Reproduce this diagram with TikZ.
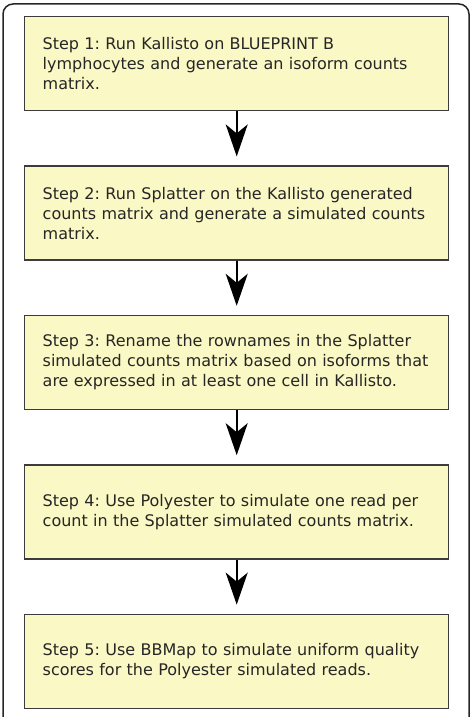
\documentclass[tikz,border=0pt]{standalone}
\usepackage{fontspec}
\setmainfont{DejaVu Sans}
\usetikzlibrary{positioning,arrows.meta}

\definecolor{boxfill}{RGB}{250,248,196}
\definecolor{boxline}{RGB}{60,60,60}

\tikzset{
  stepbox/.style={draw=boxline, line width=1.4pt, fill=boxfill,
    text width=388pt, inner xsep=18pt, inner ysep=0pt, minimum height=94pt,
    align=left, text=black!85, font=\fontsize{16}{20}\selectfont\frenchspacing},
  flow/.style={-{Stealth[length=32pt,width=22pt,inset=9pt]}, line width=1.6pt, shorten >=9pt}
}

\begin{document}
\begin{tikzpicture}[x=1pt, y=-1pt, node distance=54pt]
  \useasboundingbox (0,0) rectangle (471,717);

  % Outer frame, its bottom edge runs off the page
  \draw[line width=1.5pt, rounded corners=10pt, black!85] (3,4) rectangle (469,740);

  % Steps
  \node[stepbox, anchor=north west] (s1) at (24,16)
    {Step 1: Run Kallisto on BLUEPRINT B\\lymphocytes and generate an isoform counts\\matrix.};
  \node[stepbox, below=of s1] (s2)
    {Step 2: Run Splatter on the Kallisto generated\\counts matrix and generate a simulated counts\\matrix.};
  \node[stepbox, below=of s2] (s3)
    {Step 3: Rename the rownames in the Splatter\\simulated counts matrix based on isoforms that\\are expressed in at least one cell in Kallisto.};
  \node[stepbox, below=of s3] (s4)
    {Step 4: Use Polyester to simulate one read per\\count in the Splatter simulated counts matrix.};
  \node[stepbox, below=of s4] (s5)
    {Step 5: Use BBMap to simulate uniform quality\\scores for the Polyester simulated reads.};

  % Arrows between steps
  \foreach \a/\b in {s1/s2, s2/s3, s3/s4, s4/s5}
    \draw[flow] (\a) -- (\b);
\end{tikzpicture}
\end{document}
